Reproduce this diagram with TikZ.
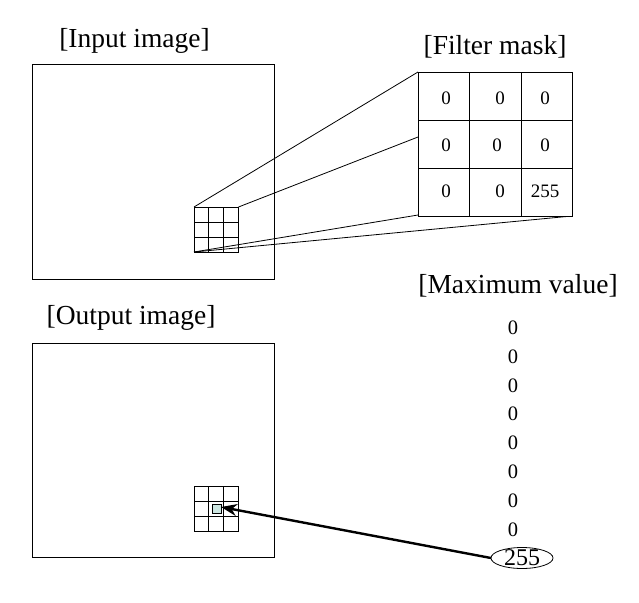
\documentclass[tikz,border=0pt]{standalone}
\usepackage{fontspec}
\setmainfont{Liberation Serif}
\usetikzlibrary{arrows.meta,shapes.geometric}
\begin{document}
\begin{tikzpicture}[x=1pt,y=-1pt,
  frame/.style={draw,line width=0.9pt},
  thin/.style={draw,line width=0.8pt},
  lbl/.style={inner sep=0pt,font=\fontsize{27.5}{30}\selectfont},
  num/.style={inner sep=0pt,font=\fontsize{19}{21}\selectfont},
  colnum/.style={inner sep=0pt,font=\fontsize{20.5}{22}\selectfont}]
\useasboundingbox (0,0) rectangle (639,602);
% labels
\node[lbl] (tin) at (134.5,41) {[Input image]};
\node[lbl] (tfm) at (495,47) {[Filter mask]};
\node[lbl] (tout) at (131,318) {[Output image]};
\node[lbl] (tmax) at (518,286) {[Maximum value]};
% input image
\node[frame,minimum width=242pt,minimum height=215pt,inner sep=0pt] (inimg) at (153,171.5) {};
\coordinate (gTL) at (194,207);
\coordinate (gTR) at (238.5,207);
\coordinate (gBL) at (194,252);
\foreach \i in {0,1,2,3} {
  \draw[thin] (194+\i*14.83,207) -- (194+\i*14.83,252);
  \draw[thin] (194,207+\i*15) -- (238.5,207+\i*15);
}
% filter mask
\coordinate (fTL) at (418,72);
\coordinate (fL) at (418,137);
\coordinate (fBL) at (418,215);
\coordinate (fBR) at (572,216);
\draw[thin] (gTL) -- (fTL);
\draw[thin] (gTR) -- (fL);
\draw[thin] (gBL) -- (fBL);
\draw[thin] (gBL) -- (fBR);
\draw[frame,fill=white] (418,72) rectangle (572,216);
\draw[thin] (469,72) -- (469,216) (521,72) -- (521,216)
  (418,120) -- (572,120) (418,168) -- (572,168);
\node[num] (f11) at (446,98) {0};
\node[num] (f12) at (500,98) {0};
\node[num] (f13) at (545,98) {0};
\node[num] (f21) at (446,145) {0};
\node[num] (f22) at (497,145) {0};
\node[num] (f23) at (545,145) {0};
\node[num] (f31) at (446,191) {0};
\node[num] (f32) at (500,191) {0};
\node[num] (f33) at (545,191) {255};
% output image
\node[frame,minimum width=242pt,minimum height=214pt,inner sep=0pt] (outimg) at (153,450) {};
\draw[thin,fill={rgb,255:red,204;green,230;blue,225}] (212,504) rectangle (221,513);
\foreach \i in {0,1,2,3} {
  \draw[thin] (194+\i*14.83,486) -- (194+\i*14.83,531);
  \draw[thin] (194,486+\i*15) -- (238.5,486+\i*15);
}
\coordinate (tip) at (221,507);
% max values
\foreach \y [count=\k] in {328,357,386,414,443,472,501,530} {
  \node[colnum] (m\k) at (513,\y) {0};
}
\draw[line width=0.8pt] (522,558) ellipse [x radius=31, y radius=10.5];
\node[inner sep=0pt,font=\fontsize{24}{24}\selectfont] (mx) at (522,557.5) {255};
\coordinate (mxw) at (491,558);
\draw[line width=2.4pt,-{Stealth[length=16pt,width=12pt]}] (mxw) -- (tip);
\end{tikzpicture}
\end{document}
